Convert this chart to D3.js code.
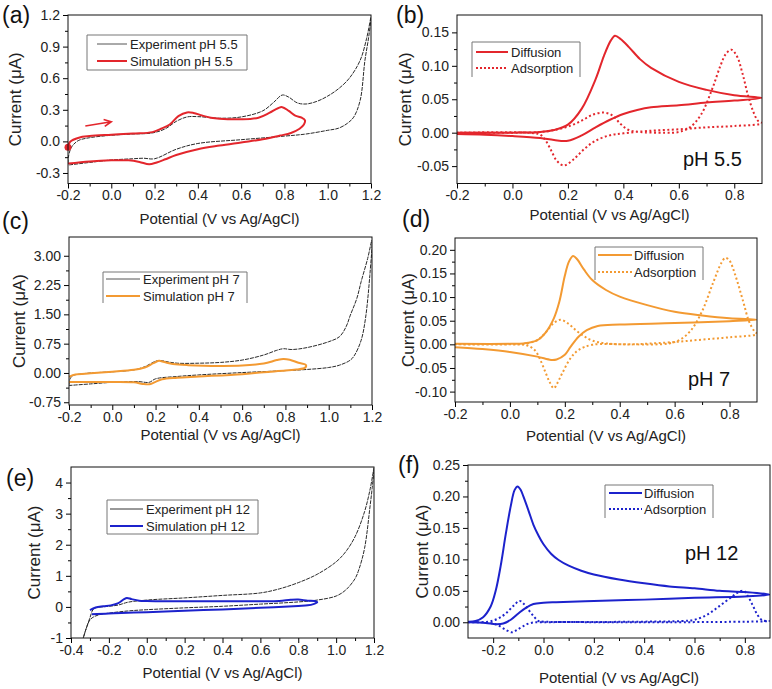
<!DOCTYPE html>
<html>
<head>
<meta charset="utf-8">
<script src="https://cdn.jsdelivr.net/npm/d3@7"></script>
<style>
  body { margin: 0; background: #fff; }
  text { font-family: Arial, "Liberation Sans", sans-serif; }
</style>
</head>
<body>
<svg id="fig" width="772" height="689"></svg>
<script>
// ---- data: [potential (V), current (uA)] ----

// (a) pH 5.5, experiment vs simulation
var expA = [[-0.2,-0.21],[-0.198,-0.15],[-0.19,-0.08],[-0.175,-0.03],[-0.15,0.01],[-0.1,0.035],[0.0,0.058],[0.1,0.07],[0.19,0.08],[0.25,0.12],[0.3,0.19],[0.35,0.232],[0.4,0.235],[0.5,0.22],[0.6,0.232],[0.7,0.29],[0.75,0.37],[0.79,0.44],[0.82,0.42],[0.86,0.365],[0.9,0.355],[0.95,0.38],[1.0,0.43],[1.05,0.5],[1.1,0.6],[1.15,0.77],[1.18,0.98],[1.2,1.18],
  [1.19,1.0],[1.172,0.77],[1.15,0.39],[1.12,0.23],[1.09,0.17],[1.05,0.125],[1.0,0.105],[0.9,0.07],[0.8,0.05],[0.6,0.016],[0.4,-0.02],[0.3,-0.075],[0.2,-0.165],[0.15,-0.16],[0.1,-0.165],[0.0,-0.177],[-0.1,-0.2],[-0.2,-0.225]];
var simA = [[-0.2,-0.05],[-0.19,-0.003],[-0.15,0.035],[-0.1,0.05],[0.0,0.063],[0.1,0.075],[0.19,0.088],[0.23,0.12],[0.27,0.16],[0.31,0.24],[0.35,0.275],[0.38,0.27],[0.42,0.245],[0.46,0.225],[0.5,0.215],[0.6,0.21],[0.68,0.225],[0.73,0.27],[0.77,0.315],[0.79,0.325],[0.82,0.29],[0.85,0.245],[0.88,0.225],[0.895,0.2],
  [0.89,0.16],[0.87,0.12],[0.83,0.08],[0.78,0.055],[0.7,0.02],[0.6,-0.01],[0.5,-0.04],[0.4,-0.075],[0.3,-0.13],[0.25,-0.17],[0.21,-0.2],[0.175,-0.218],[0.13,-0.195],[0.08,-0.18],[0.0,-0.18],[-0.1,-0.19],[-0.2,-0.21]];
var startA = [[-0.2,-0.055]];
var arrowA = [[-0.12,0.146],[0.0,0.187]];

// (b) pH 5.5, diffusion vs adsorption
var diffB = [[-0.2,0.0],[0.0,0.0],[0.1,0.001],[0.15,0.004],[0.2,0.012],[0.25,0.036],[0.3,0.08],[0.33,0.115],[0.355,0.138],[0.37,0.145],[0.39,0.14],[0.42,0.128],[0.46,0.11],[0.5,0.097],[0.6,0.076],[0.7,0.064],[0.8,0.056],[0.9,0.052],
  [0.8,0.048],[0.7,0.045],[0.6,0.041],[0.5,0.038],[0.45,0.034],[0.4,0.028],[0.35,0.019],[0.3,0.008],[0.25,-0.004],[0.2,-0.012],[0.15,-0.011],[0.1,-0.008],[0.0,-0.005],[-0.1,-0.003],[-0.2,-0.002]];
var adsB = [[-0.2,0.0],[0.0,0.0],[0.1,0.001],[0.15,0.004],[0.2,0.009],[0.25,0.018],[0.29,0.027],[0.33,0.03],[0.36,0.026],[0.39,0.013],[0.42,0.004],[0.46,0.001],[0.55,0.0],[0.6,0.001],[0.64,0.008],[0.68,0.027],[0.72,0.065],[0.75,0.1],[0.77,0.118],[0.79,0.124],[0.81,0.114],[0.83,0.088],[0.85,0.055],[0.87,0.03],[0.885,0.018],[0.9,0.014],
  [0.8,0.01],[0.7,0.008],[0.6,0.005],[0.5,0.003],[0.4,-0.001],[0.35,-0.004],[0.3,-0.012],[0.26,-0.024],[0.22,-0.04],[0.185,-0.049],[0.16,-0.042],[0.14,-0.027],[0.12,-0.012],[0.1,-0.003],[0.05,0.0],[-0.2,0.0]];

// (c) pH 7, experiment vs simulation
var expC = [[-0.2,-0.3],[-0.195,-0.15],[-0.18,-0.06],[-0.15,-0.03],[-0.1,0.0],[0.0,0.03],[0.1,0.08],[0.15,0.16],[0.2,0.3],[0.22,0.32],[0.26,0.28],[0.3,0.25],[0.4,0.25],[0.5,0.27],[0.6,0.33],[0.7,0.46],[0.76,0.58],[0.79,0.62],[0.83,0.6],[0.9,0.65],[1.0,0.8],[1.05,0.93],[1.08,1.18],[1.1,1.48],[1.13,1.91],[1.15,2.34],[1.18,2.93],[1.2,3.4],
  [1.19,2.5],[1.17,1.4],[1.15,0.84],[1.12,0.46],[1.1,0.33],[1.05,0.2],[1.0,0.14],[0.9,0.09],[0.8,0.06],[0.6,0.01],[0.4,-0.05],[0.3,-0.09],[0.2,-0.15],[0.17,-0.24],[0.12,-0.22],[0.0,-0.24],[-0.1,-0.28],[-0.2,-0.32]];
var simC = [[-0.2,-0.1],[-0.17,-0.04],[-0.1,-0.01],[0.0,0.03],[0.1,0.08],[0.15,0.14],[0.19,0.25],[0.215,0.31],[0.24,0.28],[0.28,0.23],[0.35,0.2],[0.5,0.18],[0.6,0.19],[0.7,0.24],[0.76,0.33],[0.79,0.36],[0.82,0.34],[0.86,0.26],[0.895,0.2],
  [0.89,0.13],[0.85,0.09],[0.8,0.06],[0.7,0.02],[0.6,-0.03],[0.4,-0.09],[0.3,-0.12],[0.23,-0.16],[0.195,-0.24],[0.17,-0.29],[0.14,-0.28],[0.1,-0.24],[0.0,-0.23],[-0.1,-0.23],[-0.2,-0.23]];

// (d) pH 7, diffusion vs adsorption
var diffD = [[-0.2,0.001],[0.0,0.001],[0.05,0.002],[0.1,0.009],[0.13,0.025],[0.16,0.055],[0.18,0.09],[0.2,0.145],[0.215,0.175],[0.23,0.187],[0.245,0.18],[0.27,0.158],[0.3,0.136],[0.35,0.115],[0.4,0.101],[0.5,0.083],[0.6,0.069],[0.7,0.061],[0.8,0.055],[0.9,0.052],
  [0.8,0.049],[0.6,0.045],[0.4,0.042],[0.32,0.039],[0.28,0.03],[0.25,0.016],[0.22,-0.006],[0.2,-0.022],[0.17,-0.032],[0.15,-0.033],[0.1,-0.026],[0.0,-0.016],[-0.1,-0.01],[-0.2,-0.006]];
var adsD = [[-0.2,0.0],[0.0,0.0],[0.05,0.001],[0.1,0.009],[0.13,0.025],[0.16,0.045],[0.185,0.052],[0.21,0.045],[0.24,0.03],[0.27,0.017],[0.3,0.008],[0.35,0.002],[0.45,0.0],[0.58,0.002],[0.62,0.01],[0.66,0.03],[0.7,0.07],[0.74,0.13],[0.77,0.172],[0.785,0.183],[0.8,0.177],[0.82,0.148],[0.85,0.09],[0.87,0.05],[0.89,0.028],[0.9,0.022],
  [0.8,0.015],[0.7,0.01],[0.6,0.005],[0.45,0.0],[0.3,-0.001],[0.25,-0.012],[0.22,-0.03],[0.19,-0.062],[0.17,-0.085],[0.16,-0.093],[0.145,-0.08],[0.13,-0.06],[0.11,-0.032],[0.09,-0.012],[0.06,-0.002],[0.0,0.0],[-0.2,0.0]];

// (e) pH 12, experiment vs simulation
var expE = [[-0.34,-1.1],[-0.32,-0.7],[-0.3,-0.35],[-0.285,-0.1],[-0.27,-0.03],[-0.2,0.02],[-0.15,0.06],[-0.1,0.15],[0.0,0.22],[0.2,0.29],[0.4,0.37],[0.6,0.45],[0.7,0.58],[0.8,0.78],[0.9,1.05],[1.0,1.45],[1.05,1.77],[1.1,2.26],[1.15,3.06],[1.18,3.8],[1.2,4.46],
  [1.19,3.8],[1.18,3.28],[1.15,1.88],[1.12,1.2],[1.1,0.91],[1.05,0.54],[1.0,0.35],[0.9,0.22],[0.8,0.16],[0.6,0.09],[0.4,0.02],[0.2,-0.03],[0.0,-0.09],[-0.1,-0.13],[-0.2,-0.2],[-0.25,-0.25],[-0.28,-0.32],[-0.3,-0.42],[-0.32,-0.7],[-0.34,-1.1]];
var simE = [[-0.3,-0.1],[-0.27,-0.02],[-0.23,0.02],[-0.19,0.05],[-0.15,0.12],[-0.12,0.25],[-0.105,0.29],[-0.08,0.25],[-0.04,0.2],[0.0,0.19],[0.2,0.18],[0.4,0.18],[0.6,0.18],[0.7,0.19],[0.76,0.23],[0.8,0.24],[0.85,0.2],[0.885,0.19],[0.9,0.15],
  [0.88,0.09],[0.85,0.05],[0.8,0.03],[0.6,-0.03],[0.4,-0.08],[0.2,-0.12],[0.0,-0.17],[-0.1,-0.19],[-0.2,-0.21],[-0.29,-0.24]];

// (f) pH 12, diffusion vs adsorption
var diffF = [[-0.3,0.001],[-0.27,0.002],[-0.24,0.008],[-0.21,0.025],[-0.19,0.05],[-0.17,0.09],[-0.15,0.14],[-0.13,0.185],[-0.115,0.21],[-0.103,0.216],[-0.09,0.21],[-0.08,0.2],[-0.06,0.178],[-0.04,0.155],[-0.02,0.138],[0.0,0.124],[0.03,0.109],[0.06,0.099],[0.1,0.09],[0.15,0.082],[0.2,0.076],[0.3,0.068],[0.4,0.062],[0.5,0.057],[0.6,0.054],[0.7,0.05],[0.8,0.048],[0.9,0.044],
  [0.8,0.041],[0.6,0.039],[0.4,0.036],[0.2,0.034],[0.05,0.032],[0.0,0.031],[-0.04,0.029],[-0.07,0.023],[-0.1,0.014],[-0.13,0.004],[-0.16,-0.002],[-0.19,-0.003],[-0.23,-0.001],[-0.3,0.0]];
var adsF = [[-0.3,0.0],[-0.22,0.001],[-0.18,0.006],[-0.15,0.014],[-0.12,0.026],[-0.095,0.034],[-0.08,0.03],[-0.06,0.02],[-0.04,0.01],[-0.02,0.002],[0.0,0.001],[0.4,0.001],[0.55,0.002],[0.6,0.004],[0.65,0.012],[0.7,0.026],[0.75,0.041],[0.775,0.048],[0.795,0.05],[0.81,0.043],[0.83,0.028],[0.85,0.012],[0.87,0.003],[0.9,0.002],
  [0.5,0.0],[0.0,0.0],[-0.05,-0.001],[-0.08,-0.006],[-0.105,-0.012],[-0.125,-0.016],[-0.15,-0.012],[-0.18,-0.005],[-0.21,-0.001],[-0.3,0.0]];

// tick values
var xTicks12 = [-0.2,0.0,0.2,0.4,0.6,0.8,1.0,1.2];
var xTicks09 = [-0.2,0.0,0.2,0.4,0.6,0.8];
var xTicksE = [-0.4,-0.2,0.0,0.2,0.4,0.6,0.8,1.0,1.2];
var yTicksA = [-0.3,0.0,0.3,0.6,0.9,1.2];
var yTicksB = [-0.05,0.0,0.05,0.10,0.15];
var yTicksC = [-0.75,0.0,0.75,1.5,2.25,3.0];
var yTicksD = [-0.10,-0.05,0.0,0.05,0.10,0.15,0.20];
var yTicksE = [-1,0,1,2,3,4];
var yTicksF = [0.0,0.05,0.10,0.15,0.20,0.25];

var RED = "#e3262c", ORANGE = "#f39a32", BLUE = "#1c22cc", EXP = "#2a2a2a";

var loc = d3.formatLocale({decimal: ".", thousands: ",", grouping: [3], currency: ["", ""], minus: "-"});
var f1 = loc.format(".1f"), f2 = loc.format(".2f"), f0 = loc.format("d");

var svg = d3.select("#fig");

function panel(p) {
  var x = d3.scaleLinear().domain(p.xd).range([p.l, p.r]);
  var y = d3.scaleLinear().domain(p.yd).range([p.b, p.t]);
  var g = svg.append("g");

  var clipId = "clip" + p.id;
  g.append("clipPath").attr("id", clipId)
    .append("rect").attr("x", p.l).attr("y", p.t).attr("width", p.r - p.l).attr("height", p.b - p.t);

  // minor ticks
  var xMinor = d3.pairs(p.xt).map(function(d) { return (d[0] + d[1]) / 2; });
  var yMinor = d3.pairs(p.yt).map(function(d) { return (d[0] + d[1]) / 2; });
  g.append("g").attr("transform", "translate(0," + p.b + ")")
    .call(d3.axisBottom(x).tickValues(xMinor).tickSize(3).tickFormat(""))
    .call(function(s) { s.select(".domain").remove(); });
  g.append("g").attr("transform", "translate(" + p.l + ",0)")
    .call(d3.axisLeft(y).tickValues(yMinor).tickSize(3).tickFormat(""))
    .call(function(s) { s.select(".domain").remove(); });

  var xa = g.append("g").attr("transform", "translate(0," + p.b + ")")
    .call(d3.axisBottom(x).tickValues(p.xt).tickSize(5).tickPadding(2).tickFormat(f1));
  var ya = g.append("g").attr("transform", "translate(" + p.l + ",0)")
    .call(d3.axisLeft(y).tickValues(p.yt).tickSize(5).tickPadding(3).tickFormat(p.yf));
  [xa, ya].forEach(function(a) {
    a.select(".domain").remove();
    a.attr("font-size", 14).attr("font-family", "Arial, 'Liberation Sans', sans-serif");
    a.selectAll("text").attr("fill", "#222");
  });

  var line = d3.line()
    .x(function(d) { return x(d[0]); })
    .y(function(d) { return y(d[1]); })
    .curve(d3.curveCatmullRom.alpha(0.5));

  var plot = g.append("g").attr("clip-path", "url(#" + clipId + ")");
  p.series.forEach(function(s) {
    plot.append("path").datum(s.data)
      .attr("d", line)
      .attr("fill", "none")
      .attr("stroke", s.color)
      .attr("stroke-width", s.w)
      .attr("stroke-dasharray", s.dash || null)
      .attr("stroke-linejoin", "round");
  });

  if (p.extra) p.extra(g, plot, x, y);

  g.append("rect")
    .attr("x", p.l).attr("y", p.t).attr("width", p.r - p.l).attr("height", p.b - p.t)
    .attr("fill", "none").attr("stroke", "#111").attr("stroke-width", 1);

  // axis titles
  g.append("text")
    .attr("transform", "translate(" + p.ytx + "," + ((p.t + p.b) / 2) + ") rotate(-90)")
    .attr("text-anchor", "middle").attr("dy", "0.35em")
    .attr("font-size", 17).attr("fill", "#222")
    .text("Current (\u03BCA)");
  g.append("text")
    .attr("x", (p.l + p.r) / 2).attr("y", p.xty)
    .attr("text-anchor", "middle")
    .attr("font-size", 15).attr("fill", "#222")
    .text("Potential (V vs Ag/AgCl)");

  // panel letter
  g.append("text").attr("x", p.lab[0]).attr("y", p.lab[1])
    .attr("font-size", 23).attr("fill", "#111").text(p.letter);

  // legend
  var L = p.leg;
  var lg = g.append("g");
  lg.append("path")
    .attr("d", "M" + L.x0 + "," + L.y1 + "V" + L.y0 + "H" + L.x1 + "V" + L.y1 + (L.closed ? "H" + L.x0 : ""))
    .attr("fill", "none").attr("stroke", "#777").attr("stroke-width", 1);
  L.items.forEach(function(it, i) {
    var yy = L.rows[i];
    lg.append("line").attr("x1", L.lx0).attr("x2", L.lx1).attr("y1", yy).attr("y2", yy)
      .attr("stroke", it.color).attr("stroke-width", it.w).attr("stroke-dasharray", it.dash || null);
    lg.append("text").attr("x", L.tx).attr("y", yy).attr("dy", "0.35em")
      .attr("font-size", 13).attr("fill", "#222").text(it.label);
  });

  if (p.ph) {
    g.append("text").attr("x", p.ph[0]).attr("y", p.ph[1])
      .attr("font-size", 20).attr("fill", "#111").text(p.ph[2]);
  }
}

// (a)
panel({
  id: "a", letter: "(a)", lab: [2, 23],
  l: 68, r: 371, t: 15, b: 183.5, xd: [-0.2, 1.2], yd: [-0.4, 1.2],
  xt: xTicks12, yt: yTicksA, yf: f1, ytx: 15, xty: 224,
  series: [
    {data: expA, color: EXP, w: 1, dash: "4,1"},
    {data: simA, color: RED, w: 2}
  ],
  leg: {x0: 87, x1: 247, y0: 35, y1: 70, closed: true, lx0: 97, lx1: 127, tx: 130, rows: [44, 61],
    items: [{label: "Experiment pH 5.5", color: "#555", w: 1}, {label: "Simulation pH 5.5", color: RED, w: 2}]},
  extra: function(g, plot, x, y) {
    g.append("circle").datum(startA[0])
      .attr("cx", function(d) { return x(d[0]); }).attr("cy", function(d) { return y(d[1]); })
      .attr("r", 3.5).attr("fill", RED);
    var a0 = arrowA[0], a1 = arrowA[1];
    var x0 = x(a0[0]), y0 = y(a0[1]), x1 = x(a1[0]), y1 = y(a1[1]);
    var ang = Math.atan2(y1 - y0, x1 - x0), h = 8;
    g.append("path")
      .attr("d", "M" + x0 + "," + y0 + "L" + x1 + "," + y1 +
        "M" + (x1 - h * Math.cos(ang - 0.45)) + "," + (y1 - h * Math.sin(ang - 0.45)) +
        "L" + x1 + "," + y1 +
        "L" + (x1 - h * Math.cos(ang + 0.45)) + "," + (y1 - h * Math.sin(ang + 0.45)))
      .attr("fill", "none").attr("stroke", RED).attr("stroke-width", 1.6);
  }
});

// (b)
panel({
  id: "b", letter: "(b)", lab: [396, 23],
  l: 457, r: 762, t: 15, b: 183.5, xd: [-0.2, 0.9], yd: [-0.076, 0.176],
  xt: xTicks09, yt: yTicksB, yf: f2, ytx: 405, xty: 220,
  series: [
    {data: adsB, color: RED, w: 2, dash: "2,2.5"},
    {data: diffB, color: RED, w: 2}
  ],
  leg: {x0: 472, x1: 580, y0: 42, y1: 77, closed: false, lx0: 476, lx1: 508, tx: 511, rows: [52, 68],
    items: [{label: "Diffusion", color: RED, w: 2}, {label: "Adsorption", color: RED, w: 2, dash: "2,2"}]},
  ph: [683, 166, "pH 5.5"]
});

// (c)
panel({
  id: "c", letter: "(c)", lab: [2, 229],
  l: 69, r: 372, t: 237, b: 405, xd: [-0.2, 1.2], yd: [-0.82, 3.48],
  xt: xTicks12, yt: yTicksC, yf: f2, ytx: 19, xty: 440,
  series: [
    {data: expC, color: EXP, w: 1, dash: "4,1"},
    {data: simC, color: ORANGE, w: 2}
  ],
  leg: {x0: 103, x1: 247, y0: 272, y1: 303, closed: false, lx0: 106, lx1: 140, tx: 143, rows: [279, 296],
    items: [{label: "Experiment pH 7", color: "#555", w: 1}, {label: "Simulation pH 7", color: ORANGE, w: 2}]}
});

// (d)
panel({
  id: "d", letter: "(d)", lab: [402, 227],
  l: 455, r: 757, t: 238, b: 402, xd: [-0.2, 0.9], yd: [-0.122, 0.225],
  xt: xTicks09, yt: yTicksD, yf: f2, ytx: 408, xty: 441,
  series: [
    {data: adsD, color: ORANGE, w: 2, dash: "2,2.5"},
    {data: diffD, color: ORANGE, w: 2}
  ],
  leg: {x0: 595, x1: 703, y0: 247, y1: 280, closed: false, lx0: 598, lx1: 632, tx: 634, rows: [255, 272],
    items: [{label: "Diffusion", color: ORANGE, w: 2}, {label: "Adsorption", color: ORANGE, w: 2, dash: "2,2"}]},
  ph: [688, 386, "pH 7"]
});

// (e)
panel({
  id: "e", letter: "(e)", lab: [6, 486],
  l: 71, r: 374, t: 467, b: 638, xd: [-0.4, 1.2], yd: [-1, 4.5],
  xt: xTicksE, yt: yTicksE, yf: f0, ytx: 34, xty: 678,
  series: [
    {data: expE, color: EXP, w: 1, dash: "4,1"},
    {data: simE, color: BLUE, w: 2}
  ],
  leg: {x0: 107, x1: 258, y0: 500, y1: 534, closed: true, lx0: 110, lx1: 143, tx: 146, rows: [509, 526],
    items: [{label: "Experiment pH 12", color: "#333", w: 1}, {label: "Simulation pH 12", color: BLUE, w: 2}]}
});

// (f)
panel({
  id: "f", letter: "(f)", lab: [398, 473],
  l: 468, r: 770, t: 465, b: 638, xd: [-0.3, 0.9], yd: [-0.025, 0.25],
  xt: xTicks09, yt: yTicksF, yf: f2, ytx: 422, xty: 683,
  series: [
    {data: adsF, color: BLUE, w: 2, dash: "2,2.5"},
    {data: diffF, color: BLUE, w: 2}
  ],
  leg: {x0: 605, x1: 713, y0: 485, y1: 518, closed: false, lx0: 609, lx1: 642, tx: 644, rows: [493, 509],
    items: [{label: "Diffusion", color: BLUE, w: 2}, {label: "Adsorption", color: BLUE, w: 2, dash: "2,2"}]},
  ph: [685, 560, "pH 12"]
});
</script>
</body>
</html>
